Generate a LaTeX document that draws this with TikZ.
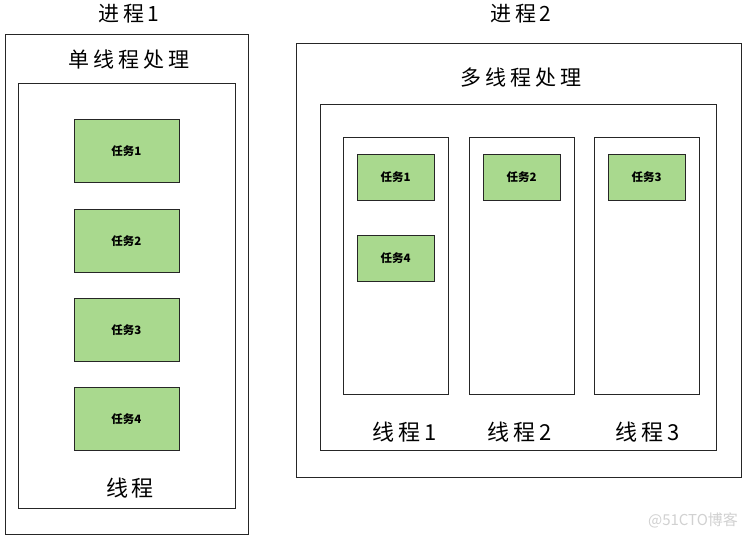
\documentclass[tikz,border=0pt]{standalone}
\usepackage{fontspec}
\setmainfont{Noto Sans CJK SC}
\newfontfamily\spacedcjk[LetterSpace=18]{Noto Sans CJK SC}
\definecolor{taskgreen}{HTML}{A9D98E}
\definecolor{edge}{HTML}{262626}
\begin{document}
\begin{tikzpicture}[x=1pt,y=-1pt,
  boxline/.style={draw=edge,line width=0.9pt},
  taskbox/.style={boxline,fill=taskgreen},
  tasktext/.style={font=\fontsize{11.5}{13}\selectfont\bfseries},
  bigtext/.style={font=\spacedcjk\fontsize{21}{24}\selectfont},
  midtext/.style={font=\spacedcjk\fontsize{22}{26}\selectfont}]
\useasboundingbox (0,0) rectangle (753,539);
\fill[white] (0,0) rectangle (753,539);
% Process 1
\node[bigtext] (p1) at (129,14) {进程1};
\draw[boxline] (5,34) rectangle (248,534);
\node[bigtext] (st) at (129,60) {单线程处理};
\draw[boxline] (18,83) rectangle (235,508);
\node[midtext] (th) at (130,488) {线程};
\draw[taskbox] (74,119) rectangle (179,182);
\node[tasktext] (a1) at (126.5,151) {任务1};
\draw[taskbox] (74,209) rectangle (179,272);
\node[tasktext] (a2) at (126.5,241) {任务2};
\draw[taskbox] (74,298) rectangle (179,361);
\node[tasktext] (a3) at (126.5,330) {任务3};
\draw[taskbox] (74,387) rectangle (179,450);
\node[tasktext] (a4) at (126.5,419) {任务4};
% Process 2
\node[bigtext] (p2) at (521,14) {进程2};
\draw[boxline] (296,43) rectangle (741,477);
\node[bigtext] (mt) at (521,78) {多线程处理};
\draw[boxline] (320,104) rectangle (716,450);
\draw[boxline] (343,137) rectangle (448,394);
\draw[boxline] (469,137) rectangle (574,394);
\draw[boxline] (594,137) rectangle (699,394);
\draw[taskbox] (357,154) rectangle (434,200);
\node[tasktext] (b1) at (395.5,177.5) {任务1};
\draw[taskbox] (357,235) rectangle (434,281);
\node[tasktext] (b4) at (395.5,258.5) {任务4};
\draw[taskbox] (483,154) rectangle (560,200);
\node[tasktext] (b2) at (521.5,177.5) {任务2};
\draw[taskbox] (608,154) rectangle (685,200);
\node[tasktext] (b3) at (646.5,177.5) {任务3};
\node[midtext] (t1) at (405,432) {线程1};
\node[midtext] (t2) at (520,432) {线程2};
\node[midtext] (t3) at (648,432) {线程3};
% watermark
\node[text=black!18,font=\fontsize{15}{17}\selectfont] (wm) at (693,520) {@51CTO博客};
\end{tikzpicture}
\end{document}
